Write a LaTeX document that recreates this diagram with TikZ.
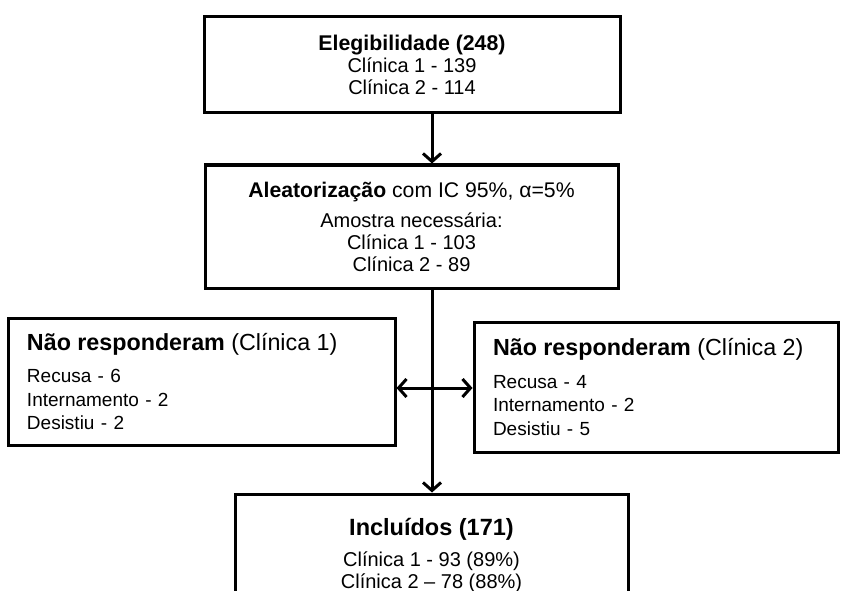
\documentclass[tikz,border=0pt]{standalone}
\usepackage{fontspec}
\setmainfont{Liberation Sans}
\usetikzlibrary{arrows.meta}
\tikzstyle{every node}=[font=\fontsize{20}{22}\selectfont]
\tikzstyle{box}=[draw=black,line width=3pt,inner sep=0pt,align=center]
\tikzstyle{sidebox}=[draw=black,line width=3pt,inner xsep=19pt,inner ysep=0pt,align=left,
  font=\fontsize{19}{23.5}\selectfont]
\tikzstyle{flow}=[line width=3pt,>={Straight Barb[length=8pt,width=18pt]},->]
\newcommand{\boxhead}[2]{{\fontsize{#1}{24}\selectfont#2}}

\begin{document}
\begin{tikzpicture}[x=1pt,y=-1pt]
  \useasboundingbox (0,0) rectangle (846,591);
  \node[box,minimum width=416pt,minimum height=96pt] (elig) at (412,65)
    {\boxhead{21.3}{\textbf{Elegibilidade (248)}}\\Clínica 1 - 139\\Clínica 2 - 114};
  \node[box,minimum width=413pt,minimum height=123pt] (rand) at (411.5,226.5)
    {\boxhead{21.2}{\textbf{Aleatorização} com IC 95\%, α=5\%}\\[8pt]
     Amostra necessária:\\Clínica 1 - 103\\Clínica 2 - 89};
  \node[sidebox,text width=349pt,minimum height=127pt] (left) at (201.5,381.5)
    {\boxhead{23.3}{\textbf{Não responderam} (Clínica 1)}\\[9pt]
     Recusa - 6\\Internamento - 2\\Desistiu - 2};
  \node[sidebox,text width=326pt,minimum height=130pt] (right) at (656,387)
    {\boxhead{23.3}{\textbf{Não responderam} (Clínica 2)}\\[9pt]
     Recusa - 4\\Internamento - 2\\Desistiu - 5};
  \node[box,minimum width=393pt,minimum height=122pt] (incl) at (431.5,555)
    {\boxhead{23.5}{\textbf{Incluídos (171)}}\\[9pt]Clínica 1 - 93 (89\%)\\Clínica 2 -- 78 (88\%)};
  % arrows
  \coordinate (split) at (432,388);
  \draw[flow] (elig.south -| split) -- (rand.north -| split);
  \draw[flow] (rand.south -| split) -- (incl.north -| split);
  \draw[flow,<->] (left.east |- split) -- (right.west |- split);
\end{tikzpicture}
\end{document}
